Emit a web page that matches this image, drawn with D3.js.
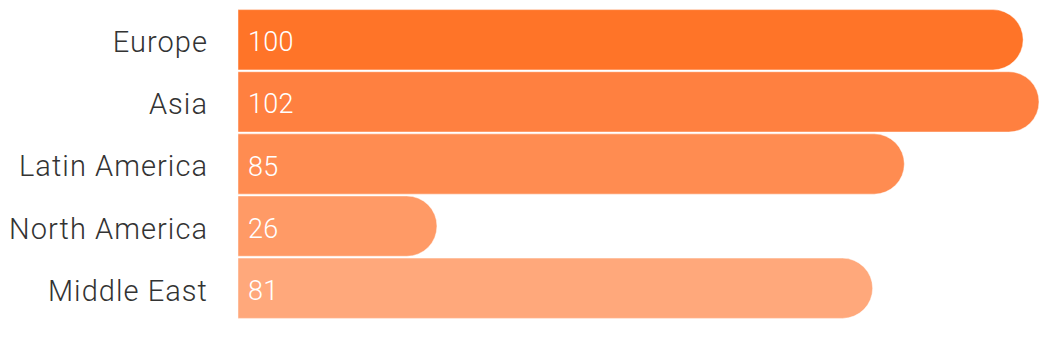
<!DOCTYPE html>
<html>
<head>
<meta charset="utf-8">
<script src="https://cdn.jsdelivr.net/npm/d3@7"></script>
<style>
  body { margin: 0; background: #fff; }
  svg text { font-family: "Helvetica Neue", Roboto, "Liberation Sans", sans-serif; font-weight: 300; }
</style>
</head>
<body>
<svg id="vis"></svg>
<script>
const width = 1053;
const height = 341;

// chart data
const regions = ["Europe", "Asia", "Latin America", "North America", "Middle East"];
const counts = [100, 102, 85, 26, 81];
const barColors = ["#ff7428", "#ff8040", "#ff8c51", "#ff9a66", "#ffa87b"];

const margin = { top: 9, left: 238 };
const step = 62;

const svg = d3.select("svg#vis")
  .attr("width", width)
  .attr("height", height);

// x(0) sits a little left of where the bars start
const x = d3.scaleLinear()
  .domain([0, 102])
  .range([231, 1039]);

const y = d3.scaleBand()
  .domain(regions)
  .range([margin.top, margin.top + step * regions.length])
  .paddingInner(0.03)
  .paddingOuter(0.01);

const data = regions.map((r, i) => ({ region: r, value: counts[i], color: barColors[i] }));

// bar with square left end and rounded right end
function barPath(d) {
  const x0 = margin.left;
  const x1 = x(d.value);
  const y0 = y(d.region);
  const h = y.bandwidth();
  const r = Math.min(h / 2, x1 - x0);
  return "M" + x0 + "," + y0 +
    "H" + (x1 - r) +
    "A" + r + "," + r + " 0 0 1 " + x1 + "," + (y0 + r) +
    "V" + (y0 + h - r) +
    "A" + r + "," + r + " 0 0 1 " + (x1 - r) + "," + (y0 + h) +
    "H" + x0 + "Z";
}

const bars = svg.append("g").attr("class", "bars")
  .selectAll("path")
  .data(data)
  .enter()
  .append("path")
  .attr("d", barPath)
  .style("fill", d => d.color)
  .style("stroke", "#fff")
  .style("stroke-opacity", 0.45)
  .style("stroke-width", 1);

// value labels inside bars
svg.append("g").attr("class", "values")
  .selectAll("text")
  .data(data)
  .enter()
  .append("text")
  .attr("x", margin.left + 10)
  .attr("y", d => y(d.region) + y.bandwidth() / 2)
  .attr("dy", "0.43em")
  .style("fill", "#fff")
  .style("font-size", "27px")
  .style("letter-spacing", "0.3px")
  .text(d => d.value);

// category labels
svg.append("g").attr("class", "labels")
  .selectAll("text")
  .data(data)
  .enter()
  .append("text")
  .attr("x", 208)
  .attr("y", d => y(d.region) + y.bandwidth() / 2)
  .attr("dy", "0.43em")
  .attr("text-anchor", "end")
  .style("fill", "#333")
  .style("font-size", "29px")
  .style("letter-spacing", "1.05px")
  .text(d => d.region);
</script>
</body>
</html>
